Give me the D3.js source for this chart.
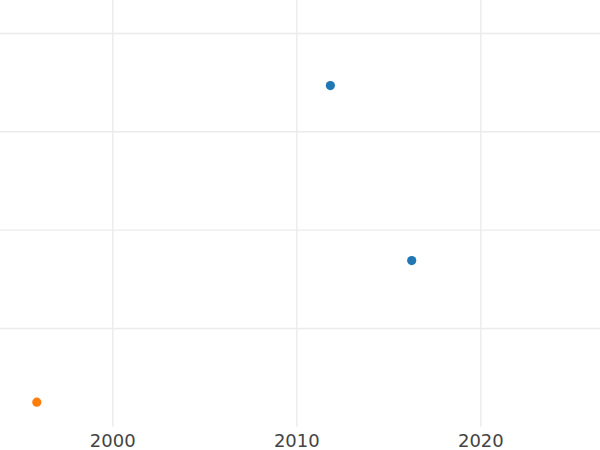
<!DOCTYPE html>
<html>
<head>
<meta charset="utf-8">
<script src="https://cdn.jsdelivr.net/npm/d3@7"></script>
<style>
  html, body { margin: 0; padding: 0; background: #fff; }
  svg { display: block; }
</style>
</head>
<body>
<div id="chart"></div>
<script>
// ---- data ----
const years  = [2011.85, 2016.27, 1995.9];
const values = [34.7, 16.9, 2.5];
const groups = ["A", "A", "B"];
const xTicks = [2000, 2010, 2020];
const yTicks = [10, 20, 30, 40];
const groupColors = { A: "#1f77b4", B: "#ff7f0e" };

const W = 600, H = 450;
const plot = { left: 0, right: 600, top: 0, bottom: 426.8 };

const svg = d3.select("#chart").append("svg")
  .attr("width", W).attr("height", H);

svg.append("rect").attr("width", W).attr("height", H).attr("fill", "#fff");

const x = d3.scaleLinear().domain([1993.9, 2026.5]).range([plot.left, plot.right]);
const y = d3.scaleLinear().domain([0, 43.4]).range([plot.bottom, plot.top]);

// horizontal grid
svg.append("g").selectAll("line").data(yTicks).join("line")
  .attr("x1", plot.left).attr("x2", plot.right)
  .attr("y1", d => y(d)).attr("y2", d => y(d))
  .attr("stroke", "#ebebeb").attr("stroke-width", 1.4);

// x axis with grid lines
const xAxis = d3.axisBottom(x).tickValues(xTicks).tickFormat(d3.format("d"))
  .tickSize(-(plot.bottom - plot.top)).tickPadding(7);
const gx = svg.append("g").attr("transform", `translate(0,${plot.bottom})`).call(xAxis);
gx.select(".domain").remove();
gx.selectAll(".tick line").attr("stroke", "#ebebeb").attr("stroke-width", 1.4);
gx.selectAll(".tick text")
  .attr("fill", "#444")
  .attr("font-family", "DejaVu Sans, sans-serif")
  .attr("font-size", 18)
  .attr("dy", "0.71em");

// points
const pts = years.map((yr, i) => ({ yr, v: values[i], g: groups[i] }));
svg.append("g").selectAll("circle").data(pts).join("circle")
  .attr("cx", d => x(d.yr))
  .attr("cy", d => y(d.v))
  .attr("r", 4.6)
  .attr("fill", d => groupColors[d.g]);
</script>
</body>
</html>
